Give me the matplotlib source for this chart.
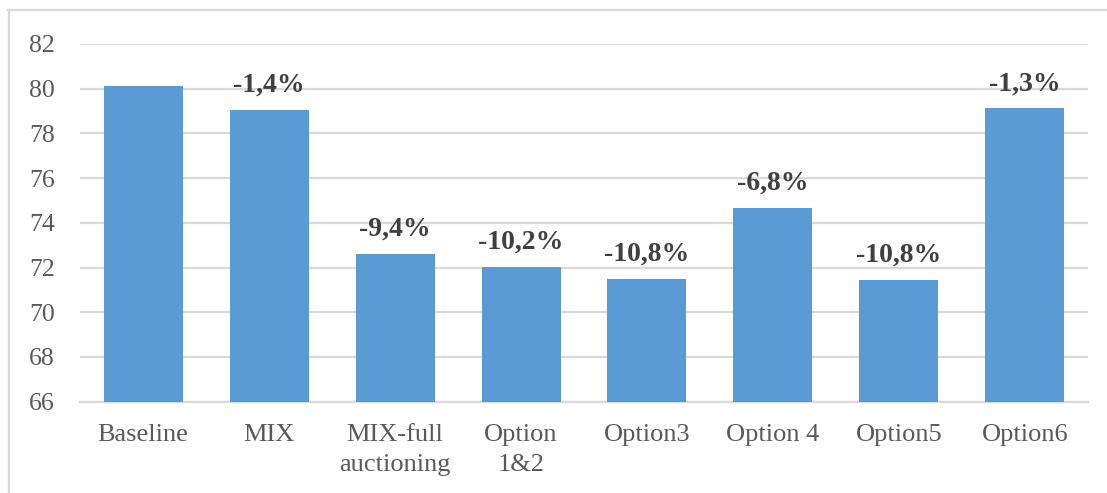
import numpy as np
import matplotlib.pyplot as plt
from matplotlib.lines import Line2D

# data
categories = ["Baseline", "MIX", "MIX-full\nauctioning", "Option\n1&2",
              "Option3", "Option 4", "Option5", "Option6"]
values = [80.13, 79.04, 72.6, 72.02, 71.5, 74.66, 71.46, 79.12]
changes = ["", "-1,4%", "-9,4%", "-10,2%", "-10,8%", "-6,8%", "-10,8%", "-1,3%"]
y_ticks = [66, 68, 70, 72, 74, 76, 78, 80, 82]

plt.rcParams['font.family'] = ['Liberation Serif', 'DejaVu Serif']

fig = plt.figure(figsize=(11.07, 4.93), dpi=100)
ax = fig.add_axes([0.0723, 0.1852, 0.9105, 0.7256])

x = np.arange(len(categories))
bars = ax.bar(x, values, width=0.627, color="#5B9BD5", zorder=3)

ax.set_ylim(66, 82)
ax.set_xlim(-0.5, len(categories) - 0.5)
ax.set_yticks(y_ticks)
ax.set_xticks(x)
ax.set_xticklabels(categories, linespacing=1.5)
ax.tick_params(axis='y', length=0, pad=18, labelsize=18.5, labelcolor="#595959")
ax.tick_params(axis='x', length=0, pad=16, labelsize=19, labelcolor="#595959")

ax.grid(axis='y', color="#D9D9D9", linewidth=1.6, zorder=0)
for s in ["top", "right", "left"]:
    ax.spines[s].set_visible(False)
ax.spines["bottom"].set_color("#D9D9D9")
ax.spines["bottom"].set_linewidth(1.6)

for b, lab in zip(bars, changes):
    if not lab:
        continue
    ax.annotate(lab, (b.get_x() + b.get_width() / 2, b.get_height()),
                xytext=(0, 13), textcoords="offset points",
                ha="center", va="baseline", fontsize=20,
                fontweight="bold", color="#404040")

# light frame at top and left, as in the reference
fig.add_artist(Line2D([8 / 1107, 1.0], [1 - 10 / 493, 1 - 10 / 493],
                      color="#D9D9D9", linewidth=1.6, transform=fig.transFigure))
fig.add_artist(Line2D([8.5 / 1107, 8.5 / 1107], [0, 1 - 10 / 493],
                      color="#D9D9D9", linewidth=1.6, transform=fig.transFigure))

fig.savefig("out.png", dpi=100)
